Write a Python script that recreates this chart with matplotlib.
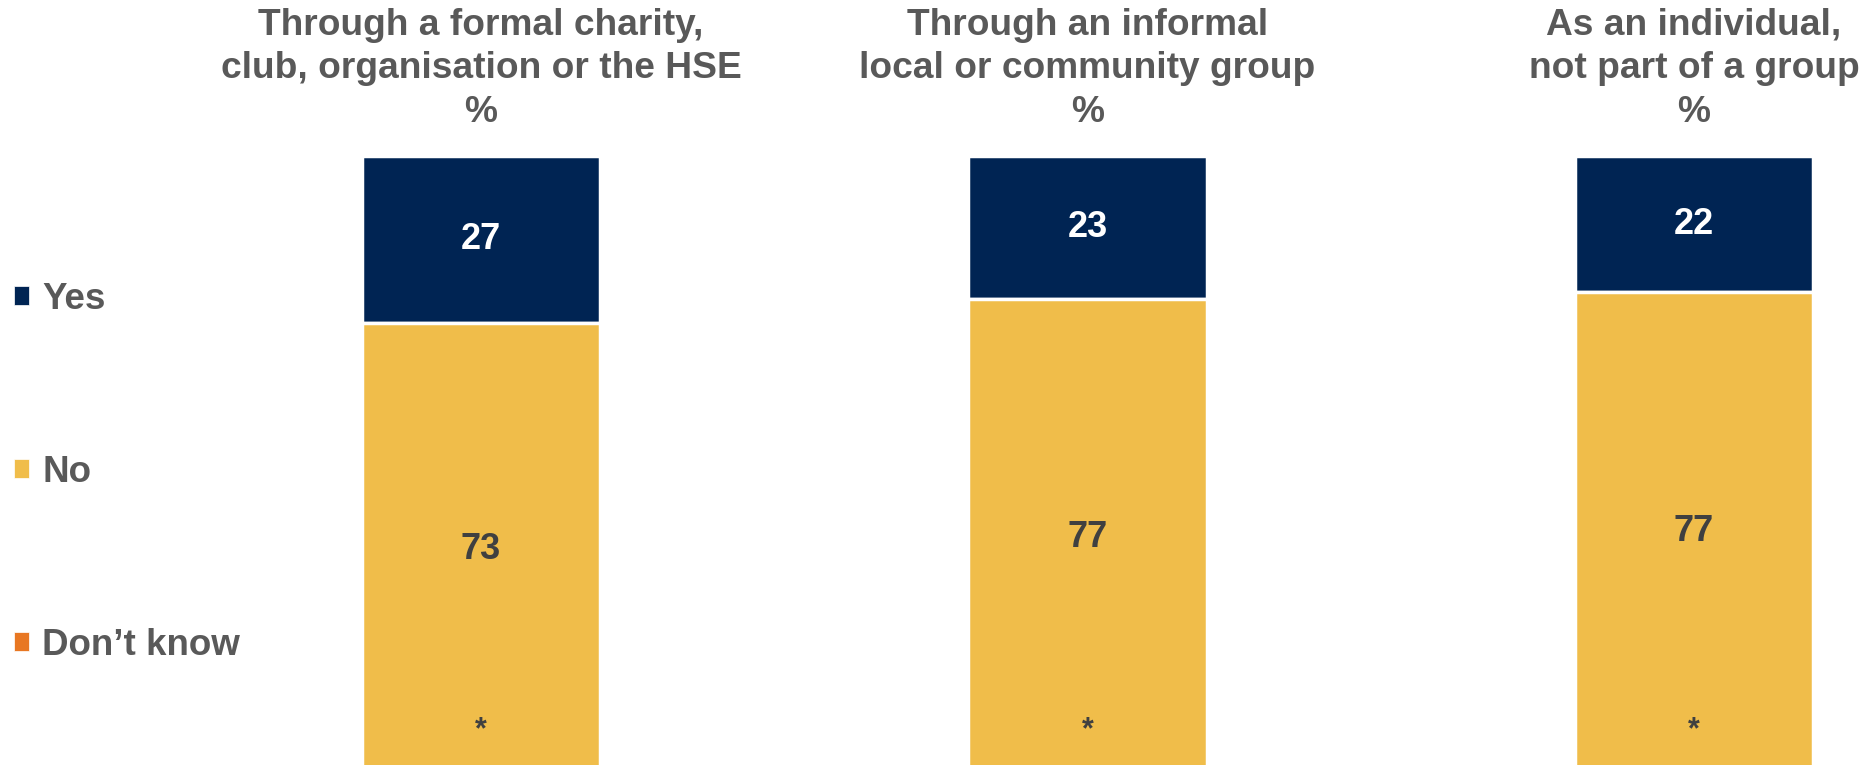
import matplotlib
matplotlib.use("Agg")
import matplotlib.pyplot as plt
from matplotlib.patches import Patch
import numpy as np

plt.rcParams['font.family'] = ['Liberation Sans', 'DejaVu Sans']

categories = ["Through a formal charity,\nclub, organisation or the HSE\n%",
              "Through an informal\nlocal or community group\n%",
              "As an individual,\nnot part of a group\n%"]
series_names = ["Yes", "No", "Don\u2019t know"]
yes_vals = [27, 23, 22]
no_vals = [73, 77, 77]
dk_vals = [0, 0, 0]
yes_labels = ["27", "23", "22"]
no_labels = ["73", "77", "77"]
dk_labels = ["*", "*", "*"]

NAVY = "#002453"
YELLOW = "#F0BD4A"
ORANGE = "#E87722"
GRAY = "#595959"
DARK = "#404040"

W, H = 1865, 765
fig = plt.figure(figsize=(W / 100, H / 100), dpi=100)
# plot area: 0% at 156 px from top, 100% at 776 px (just below the image edge)
ax = fig.add_axes([0, (H - 776) / H, 1, (776 - 156) / H])
x = np.arange(len(categories))
bw = 0.394

yes = np.array(yes_vals)
no = np.array(no_vals)
dk = np.array(dk_vals)

b1 = ax.bar(x, yes, bw, bottom=0, color=NAVY, edgecolor="white", linewidth=2.5)
b2 = ax.bar(x, no, bw, bottom=yes, color=YELLOW, edgecolor="white", linewidth=2.5)
b3 = ax.bar(x, dk, bw, bottom=yes + no, color=ORANGE, edgecolor="white", linewidth=0)

ax.bar_label(b1, labels=yes_labels, label_type="center", color="white",
             fontsize=26, fontweight="bold")
ax.bar_label(b2, labels=no_labels, label_type="center", color=DARK,
             fontsize=26, fontweight="bold")
for xi, lab in zip(x, dk_labels):
    ax.annotate(lab, (xi, 0), xycoords=("data", "axes fraction"),
                xytext=(0, 33), textcoords="offset points",
                ha="center", va="center", color=DARK, fontsize=22, fontweight="bold")

ax.set_xlim(-481 / 606.5, (W - 481) / 606.5)
ax.set_ylim(100, 0)
ax.axis("off")

trans = matplotlib.transforms.blended_transform_factory(ax.transData, fig.transFigure)
for xi, cat in zip(x, categories):
    ax.text(xi, 1 - 8 / H, cat, transform=trans, ha="center", va="top",
            fontsize=26.7, fontweight="bold", color=GRAY, linespacing=1.31)

handles = [Patch(facecolor=c, edgecolor="white", linewidth=0.5) for c in (NAVY, YELLOW, ORANGE)]
leg = fig.legend(handles, series_names, loc="upper left",
                 bbox_to_anchor=(14 / W, 1 - 282 / H),
                 frameon=False, prop={"size": 26.5, "weight": "bold"},
                 handlelength=0.42, handleheight=0.42, handletextpad=0.35,
                 labelspacing=3.75, borderpad=0.0, borderaxespad=0.0)
for t in leg.get_texts():
    t.set_color(GRAY)

fig.savefig("out.png", dpi=100)
